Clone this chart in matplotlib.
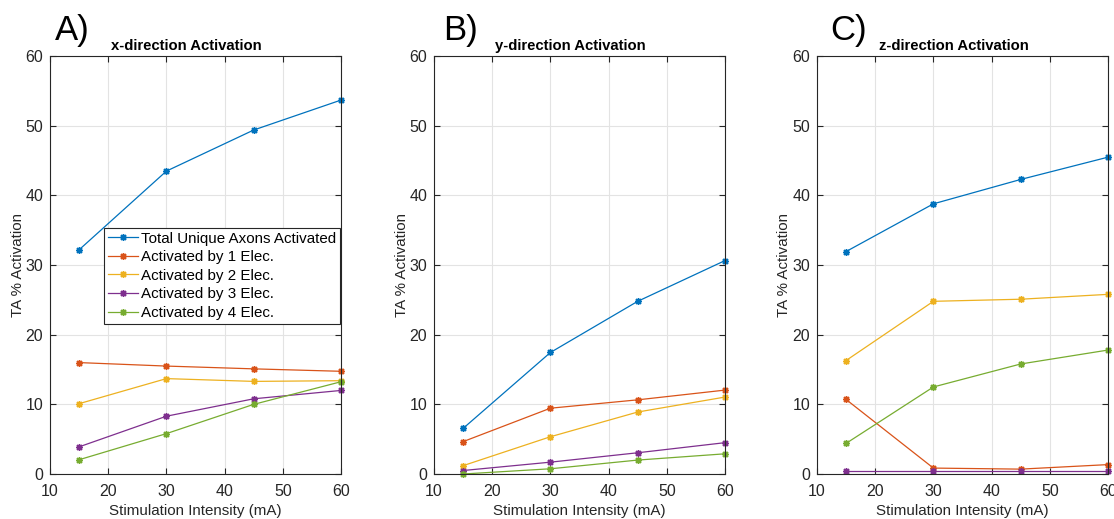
"""
TA % activation vs stimulation intensity, x / y / z directions
"""
import matplotlib
matplotlib.use('Agg')
import matplotlib.pyplot as plt

# Donnees
intensity = [15, 30, 45, 60]
series_labels = ['Total Unique Axons Activated', 'Activated by 1 Elec.',
                 'Activated by 2 Elec.', 'Activated by 3 Elec.',
                 'Activated by 4 Elec.']

x_total = [32.2, 43.5, 49.4, 53.7]
x_elec1 = [16.0, 15.5, 15.1, 14.75]
x_elec2 = [10.1, 13.7, 13.3, 13.4]
x_elec3 = [3.9, 8.3, 10.8, 12.0]
x_elec4 = [2.05, 5.8, 10.0, 13.25]

y_total = [6.55, 17.45, 24.8, 30.65]
y_elec1 = [4.65, 9.45, 10.65, 12.05]
y_elec2 = [1.2, 5.35, 8.9, 11.05]
y_elec3 = [0.5, 1.7, 3.05, 4.5]
y_elec4 = [0.0, 0.75, 2.0, 2.9]

z_total = [31.95, 38.8, 42.3, 45.5]
z_elec1 = [10.7, 0.85, 0.7, 1.35]
z_elec2 = [16.3, 24.8, 25.1, 25.8]
z_elec3 = [0.45, 0.45, 0.45, 0.45]
z_elec4 = [4.4, 12.5, 15.8, 17.8]

panel_letters = ['A)', 'B)', 'C)']
panel_titles = ['x-direction Activation', 'y-direction Activation',
                'z-direction Activation']
x_ticks = [10, 20, 30, 40, 50, 60]
y_ticks = [0, 10, 20, 30, 40, 50, 60]

# couleurs par defaut de MATLAB
colors = ['#0072BD', '#D95319', '#EDB120', '#7E2F8E', '#77AC30']
dark = '#262626'

plt.rcParams['font.family'] = ['Liberation Sans', 'DejaVu Sans']

fig = plt.figure(figsize=(11.14, 5.19), dpi=100)

panels = [
    [x_total, x_elec1, x_elec2, x_elec3, x_elec4],
    [y_total, y_elec1, y_elec2, y_elec3, y_elec4],
    [z_total, z_elec1, z_elec2, z_elec3, z_elec4],
]
lefts = [0.0449, 0.3896, 0.7334]
letter_x = [0.017, 0.031, 0.045]
width = 0.2612
bottom = 0.0867
height = 0.805

for i, data in enumerate(panels):
    ax = fig.add_axes([lefts[i], bottom, width, height])
    for vals, lab, col in zip(data, series_labels, colors):
        # asterisque facon MATLAB
        ax.plot(intensity, vals, color=col, linewidth=0.9, marker=(8, 2, 0),
                markersize=5, markeredgewidth=1.0, label=lab, clip_on=False)

    ax.set_xlim(10, 60)
    ax.set_ylim(0, 60)
    ax.set_xticks(x_ticks)
    ax.set_yticks(y_ticks)
    ax.grid(True, color='#e3e3e3', linewidth=0.8)
    ax.set_axisbelow(True)
    ax.tick_params(direction='in', length=4, width=0.8, colors=dark,
                   labelsize=11.5, top=True, right=True)
    ax.tick_params(axis='x', pad=7)
    ax.tick_params(axis='y', pad=5)
    for sp in ax.spines.values():
        sp.set_color(dark)
        sp.set_linewidth(0.8)

    ax.set_xlabel('Stimulation Intensity (mA)', fontsize=10.9, color=dark,
                  labelpad=4)
    ax.set_ylabel('TA % Activation', fontsize=10.9, color=dark, labelpad=0.5)

    # titre decale vers la gauche comme dans l'original
    ax.text(0.469, 1.008, panel_titles[i], transform=ax.transAxes,
            ha='center', va='bottom', fontsize=10.7, fontweight='bold',
            color='black')
    ax.text(letter_x[i], 1.038, panel_letters[i], transform=ax.transAxes,
            ha='left', va='baseline', fontsize=25, color='black')

    if i == 0:
        leg = ax.legend(loc='upper left', bbox_to_anchor=(0.186, 0.589),
                        borderaxespad=0, fontsize=10.9, handlelength=2.0,
                        handletextpad=0.2, labelspacing=0.3,
                        borderpad=0.25, fancybox=False, framealpha=1)
        leg.get_frame().set_edgecolor(dark)
        leg.get_frame().set_linewidth(0.8)

plt.savefig('out.png', dpi=100)
